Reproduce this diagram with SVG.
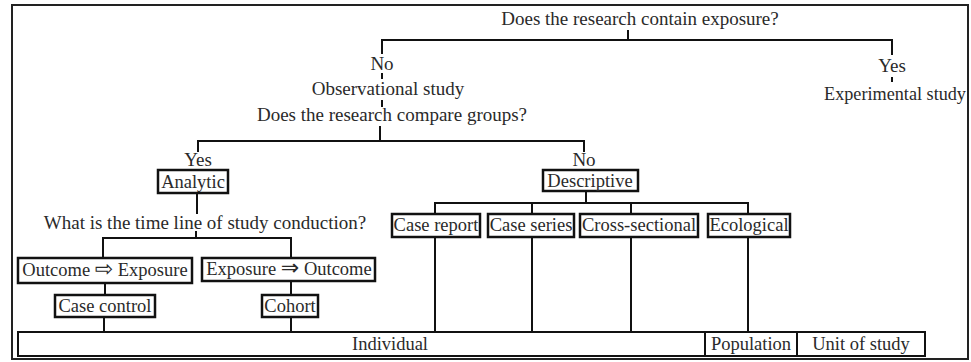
<svg xmlns="http://www.w3.org/2000/svg" width="971" height="362" viewBox="0 0 971 362">
<style>
text{font-family:"Liberation Serif","Times New Roman",serif;font-size:19px;fill:#2a2a2a;text-anchor:middle}
.b{font-size:18.5px}
.box{fill:#fff;stroke:#111;stroke-width:2.5}
.cell{fill:#fff;stroke:#111;stroke-width:2}
.ln{fill:none;stroke:#111;stroke-width:2}
.arr{font-family:"DejaVu Sans",sans-serif;font-size:22px}
</style>
<rect x="0" y="0" width="971" height="362" fill="#fff"/>
<rect x="12" y="5" width="956" height="354" fill="none" stroke="#222" stroke-width="2"/>
<g id="connectors" class="ln">
<path d="M628 30V40M382 54V40H892V55"/>
<path d="M382 73V79M892 77V82M382 100V107"/>
<path d="M380 126V141M198 152V141H584V152"/>
<path d="M197 193V214M196 231V238M103 258V238H291V258"/>
<path d="M105 283V295M291 281V295M104 317V332M291 317V332"/>
<path d="M586 191V203M435 214V203H748V214M532 203V214M631 203V214"/>
<path d="M435 237V332M532 237V332M631 237V332M748 237V332"/>
</g>
<g id="q1"><text x="640" y="25">Does the research contain exposure?</text></g>
<g id="no1"><text x="382" y="70">No</text></g>
<g id="obs"><text x="388" y="95">Observational study</text></g>
<g id="yes1"><text x="892" y="72">Yes</text></g>
<g id="exp"><text x="895" y="100" style="font-size:18.2px">Experimental study</text></g>
<g id="q2"><text x="392" y="121">Does the research compare groups?</text></g>
<g id="yes2"><text x="198" y="166">Yes</text></g>
<g id="no2"><text x="584" y="166">No</text></g>
<g id="analytic"><rect class="box" x="158" y="170" width="70" height="23"/><text class="b" x="193" y="188">Analytic</text></g>
<g id="descriptive"><rect class="box" x="543" y="170" width="95" height="21"/><text class="b" x="590" y="187">Descriptive</text></g>
<g id="q3"><text x="205" y="229">What is the time line of study conduction?</text></g>
<g id="oe"><rect class="box" x="18" y="258" width="174" height="25"/><text class="b" x="105" y="276">Outcome <tspan class="arr">⇨</tspan> Exposure</text></g>
<g id="eo"><rect class="box" x="202" y="258" width="173" height="23"/><text class="b" x="289" y="275">Exposure <tspan class="arr">⇒</tspan> Outcome</text></g>
<g id="casecontrol"><rect class="box" x="55" y="295" width="100" height="22"/><text class="b" x="105" y="312">Case control</text></g>
<g id="cohort"><rect class="box" x="262" y="295" width="56" height="22"/><text class="b" x="290" y="312">Cohort</text></g>
<g id="casereport"><rect class="box" x="392" y="214" width="88" height="23"/><text class="b" x="436" y="231">Case report</text></g>
<g id="caseseries"><rect class="box" x="488" y="214" width="86" height="23"/><text class="b" x="531" y="231">Case series</text></g>
<g id="crosssectional"><rect class="box" x="580" y="214" width="118" height="23"/><text class="b" x="639" y="231">Cross-sectional</text></g>
<g id="ecological"><rect class="box" x="708" y="214" width="82" height="23"/><text class="b" x="749" y="231">Ecological</text></g>
<g id="individual"><rect class="cell" x="18" y="332" width="687" height="24"/><text class="b" x="390" y="350">Individual</text></g>
<g id="population"><rect class="cell" x="705" y="332" width="92" height="24"/><text class="b" x="751" y="350">Population</text></g>
<g id="unit"><rect class="cell" x="797" y="332" width="128" height="24"/><text class="b" x="861" y="350">Unit of study</text></g>
</svg>
